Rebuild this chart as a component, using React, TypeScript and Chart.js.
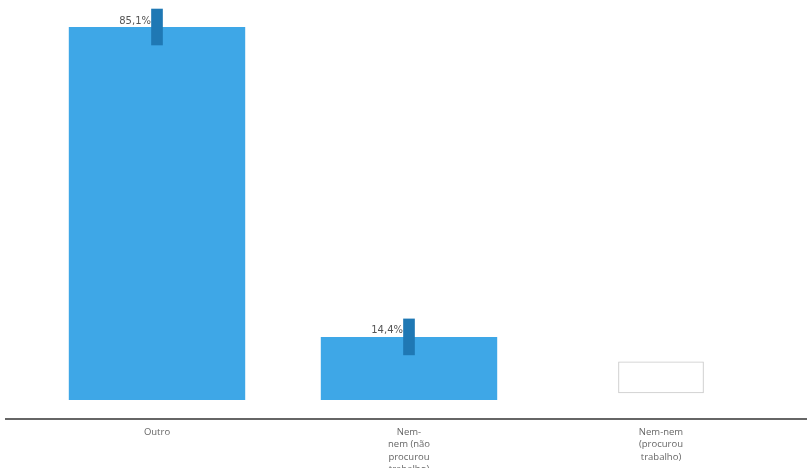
import React, { useEffect, useRef } from "react";
import { Chart, registerables } from "chart.js";

Chart.register(...registerables);

const categories: string[][] = [
  ["Outro"],
  ["Nem-", "nem (não", "procurou", "trabalho)"],
  ["Nem-nem", "(procurou", "trabalho)"],
];
const shares: (number | null)[] = [85.1, 14.4, null];
const valueLabels: string[] = ["85,1%", "14,4%", ""];
const intervals: ([number, number] | null)[] = [[81.0, 89.2], [10.3, 18.5], null];
const emptyBox: ([number, number] | null)[] = [null, null, [1.6, 8.7]];

const FONT = "'Open Sans', sans-serif";

export default function App() {
  const ref = useRef<HTMLCanvasElement | null>(null);

  useEffect(() => {
    if (!ref.current) return;
    const labelPlugin = {
      id: "labels",
      afterDatasetsDraw(chart: any) {
        const ctx = chart.ctx;
        const meta = chart.getDatasetMeta(0);
        ctx.save();
        ctx.font = `10px 'DejaVu Sans', sans-serif`;
        ctx.fillStyle = "#555";
        ctx.textAlign = "right";
        ctx.textBaseline = "middle";
        meta.data.forEach((el: any, i: number) => {
          if (!valueLabels[i]) return;
          ctx.fillText(valueLabels[i], el.x - 6, el.y - 6);
        });
        ctx.restore();
      },
    };
    const axisLinePlugin = {
      id: "axisLine",
      afterDraw(chart: any) {
        const ctx = chart.ctx;
        const y = chart.chartArea.bottom;
        ctx.save();
        ctx.strokeStyle = "#333";
        ctx.lineWidth = 1.5;
        ctx.beginPath();
        ctx.moveTo(5, y);
        ctx.lineTo(chart.width, y);
        ctx.stroke();
        ctx.restore();
      },
    };
    const chart = new Chart(ref.current, {
      type: "bar",
      data: {
        labels: categories,
        datasets: [
          {
            data: shares,
            backgroundColor: "#3ea7e7",
            borderWidth: 0,
            barPercentage: 0.7,
            categoryPercentage: 1,
            grouped: false,
            order: 2,
          },
          {
            data: intervals as any,
            backgroundColor: "#1f78b4",
            borderWidth: 0,
            barThickness: 11,
            grouped: false,
            order: 1,
          },
          {
            data: emptyBox as any,
            backgroundColor: "#ffffff",
            borderColor: "#c8c8c8",
            borderWidth: 1,
            borderSkipped: false,
            barThickness: 85,
            grouped: false,
            order: 0,
          },
        ],
      },
      options: {
        animation: false,
        responsive: true,
        maintainAspectRatio: false,
        layout: { padding: { left: 31, right: 20, top: 0, bottom: 0 } },
        plugins: { legend: { display: false }, tooltip: { enabled: false } },
        scales: {
          x: {
            grid: { display: false, drawTicks: false },
            border: { display: false },
            ticks: {
              padding: 7,
              color: "#666",
              font: { family: FONT, size: 9.5, lineHeight: 1.3 },
              maxRotation: 0,
              autoSkip: false,
            },
            afterFit: (scale: any) => {
              scale.height = 49;
            },
          },
          y: {
            display: false,
            min: -4.33,
            max: 91.26,
          },
        },
      },
      plugins: [labelPlugin, axisLinePlugin],
    });
    return () => chart.destroy();
  }, []);

  return (
    <div style={{ position: "fixed", left: 0, top: 0, width: 807, height: 468, background: "#fff" }}>
      <canvas ref={ref} />
    </div>
  );
}
